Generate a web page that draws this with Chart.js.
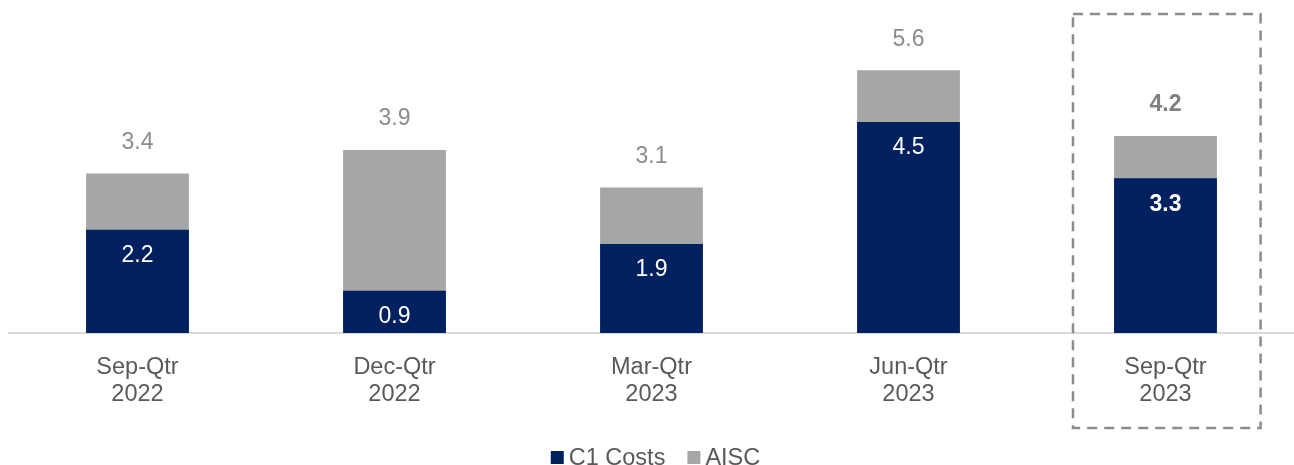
<!DOCTYPE html>
<html>
<head>
<meta charset="utf-8">
<script src="https://cdn.jsdelivr.net/npm/chart.js@4.4.0/dist/chart.umd.min.js"></script>
<style>
  html, body { margin: 0; padding: 0; background: #fff; overflow: hidden; }
  #wrap { width: 1294px; height: 465px; }
</style>
</head>
<body>
<div id="wrap"><canvas id="costChart"></canvas></div>
<script>
const quarters = [['Sep-Qtr', '2022'], ['Dec-Qtr', '2022'], ['Mar-Qtr', '2023'], ['Jun-Qtr', '2023'], ['Sep-Qtr', '2023']];
const c1Costs = [2.2, 0.9, 1.9, 4.5, 3.3];
const aiscCosts = [3.4, 3.9, 3.1, 5.6, 4.2];
const highlightIndex = 4;

const NAVY = '#002060';
const GREY = '#a6a6a6';
const FONT = '"Liberation Sans", Arial, sans-serif';

// value labels: C1 inside the navy bar, AISC above the grey bar
const valueLabels = {
    id: 'valueLabels',
    afterDatasetsDraw(chart) {
        const ctx = chart.ctx;
        ctx.save();
        ctx.textAlign = 'center';
        ctx.textBaseline = 'middle';
        chart.getDatasetMeta(0).data.forEach((bar, i) => {
            ctx.font = (i === highlightIndex ? 'bold ' : '') + '23px ' + FONT;
            ctx.fillStyle = '#ffffff';
            ctx.fillText(c1Costs[i].toFixed(1), bar.x, bar.y + 26);
        });
        chart.getDatasetMeta(1).data.forEach((bar, i) => {
            ctx.font = (i === highlightIndex ? 'bold ' : '') + '23px ' + FONT;
            ctx.fillStyle = i === highlightIndex ? '#7f7f7f' : '#8c8c8c';
            ctx.fillText(aiscCosts[i].toFixed(1), bar.x, bar.y - 31);
        });
        ctx.restore();
    }
};

// dashed box round the latest quarter, plus a small legend at the bottom
const extras = {
    id: 'extras',
    afterDraw(chart) {
        const ctx = chart.ctx;
        const x = chart.scales.x;
        const step = x.getPixelForValue(1) - x.getPixelForValue(0);
        const cx = x.getPixelForValue(highlightIndex);
        ctx.save();
        ctx.strokeStyle = '#8c8c8c';
        ctx.lineWidth = 2.5;
        ctx.setLineDash([10, 7]);
        ctx.strokeRect(cx - step * 0.36, 14, step * 0.73, 414);
        ctx.setLineDash([]);

        ctx.font = '23.5px ' + FONT;
        ctx.textBaseline = 'alphabetic';
        ctx.textAlign = 'left';
        const items = [['C1 Costs', NAVY], ['AISC', GREY]];
        const widths = items.map(it => ctx.measureText(it[0]).width);
        const total = items.length * 18 + widths[0] + widths[1] + 22;
        let px = (chart.chartArea.left + chart.chartArea.right) / 2 + 4 - total / 2;
        items.forEach((it, i) => {
            ctx.fillStyle = it[1];
            ctx.fillRect(px, 451, 13, 13);
            ctx.fillStyle = '#595959';
            ctx.fillText(it[0], px + 18, 465);
            px += 18 + widths[i] + 22;
        });
        ctx.restore();
    }
};

new Chart(document.getElementById('costChart'), {
    type: 'bar',
    data: {
        labels: quarters,
        datasets: [
            { label: 'C1 Costs', data: c1Costs, backgroundColor: NAVY },
            { label: 'AISC', data: aiscCosts, backgroundColor: GREY }
        ]
    },
    options: {
        responsive: true,
        maintainAspectRatio: false,
        animation: false,
        layout: { padding: { left: 9, right: 0, top: 0, bottom: 0 } },
        datasets: { bar: { grouped: false, barPercentage: 0.4, categoryPercentage: 1 } },
        plugins: { legend: { display: false }, tooltip: { enabled: false } },
        scales: {
            x: {
                grid: { display: false },
                border: { display: true, color: '#d9d9d9', width: 2 },
                ticks: {
                    color: '#595959',
                    font: { family: FONT, size: 23.5, lineHeight: 1.15 },
                    padding: 13,
                    maxRotation: 0,
                    autoSkip: false
                },
                afterFit: s => { s.height = 132; }
            },
            y: {
                display: false,
                min: 0,
                max: 7.1
            }
        }
    },
    plugins: [valueLabels, extras]
});
</script>
</body>
</html>
